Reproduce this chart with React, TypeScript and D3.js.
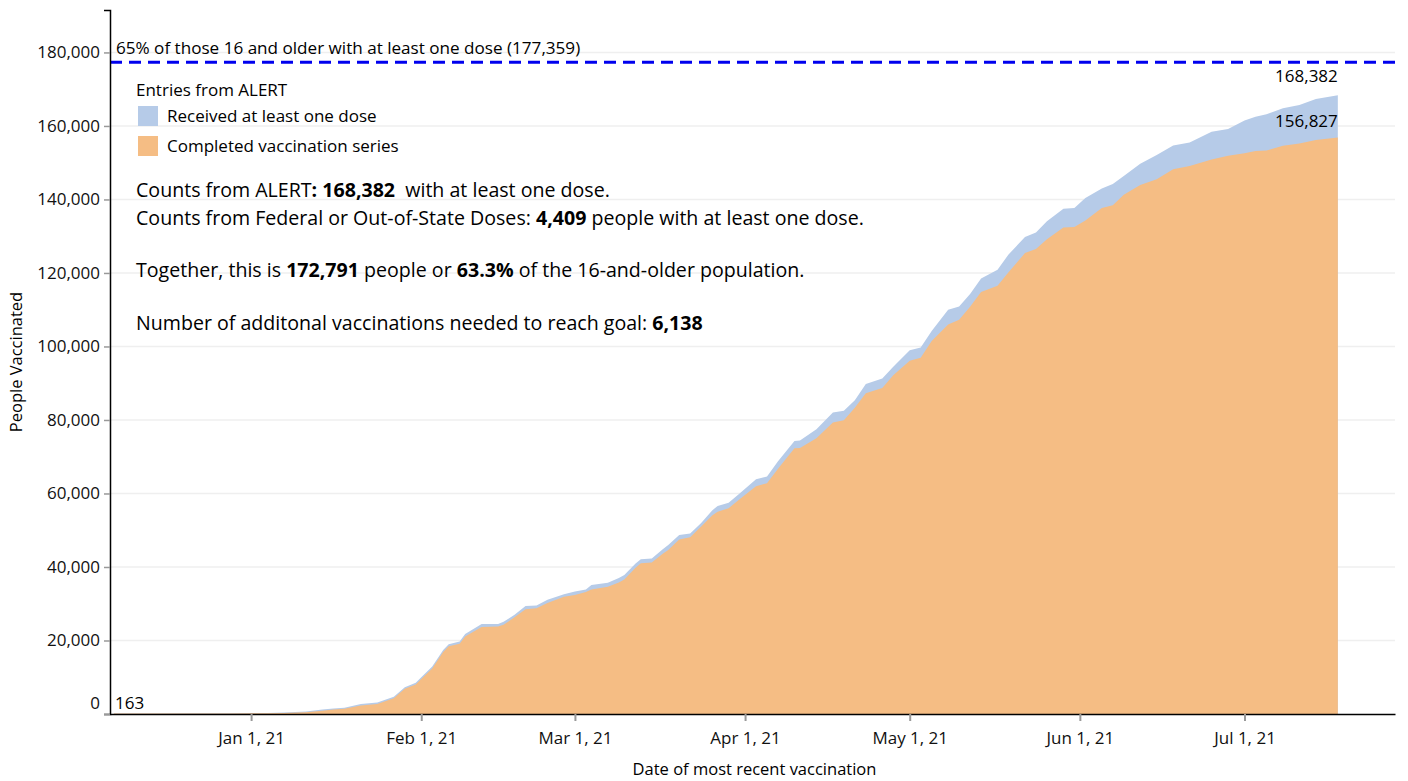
import React, { useEffect, useRef } from "react";
import * as d3 from "d3";

// cumulative counts by date of most recent vaccination
const dates = [
  "2020-12-07", "2020-12-14", "2020-12-21", "2020-12-28", "2021-01-04", "2021-01-07",
  "2021-01-11", "2021-01-14", "2021-01-16", "2021-01-18", "2021-01-21", "2021-01-24",
  "2021-01-27", "2021-01-29", "2021-01-31", "2021-02-01", "2021-02-03", "2021-02-05",
  "2021-02-06", "2021-02-08", "2021-02-09", "2021-02-12", "2021-02-15", "2021-02-16",
  "2021-02-18", "2021-02-20", "2021-02-22", "2021-02-24", "2021-02-27", "2021-03-01",
  "2021-03-03", "2021-03-04", "2021-03-07", "2021-03-09", "2021-03-10", "2021-03-12",
  "2021-03-13", "2021-03-15", "2021-03-17", "2021-03-18", "2021-03-20", "2021-03-22",
  "2021-03-24", "2021-03-26", "2021-03-27", "2021-03-29", "2021-03-31", "2021-04-03",
  "2021-04-05", "2021-04-07", "2021-04-10", "2021-04-11", "2021-04-14", "2021-04-17",
  "2021-04-19", "2021-04-21", "2021-04-23", "2021-04-26", "2021-04-28", "2021-05-01",
  "2021-05-03", "2021-05-05", "2021-05-08", "2021-05-10", "2021-05-12", "2021-05-14",
  "2021-05-17", "2021-05-19", "2021-05-22", "2021-05-24", "2021-05-26", "2021-05-29",
  "2021-05-31", "2021-06-02", "2021-06-05", "2021-06-07", "2021-06-09", "2021-06-12",
  "2021-06-15", "2021-06-18", "2021-06-21", "2021-06-25", "2021-06-28", "2021-07-01",
  "2021-07-03", "2021-07-05", "2021-07-08", "2021-07-11", "2021-07-14", "2021-07-18",
];

const atLeastOneDose = [
  163, 170, 190, 230, 300, 400,
  700, 1200, 1500, 1700, 2700, 3100,
  4700, 7300, 8500, 10000, 12900, 17400,
  19000, 19700, 21800, 24500, 24500, 25100,
  27000, 29400, 29500, 31100, 32600, 33300,
  33900, 35100, 35700, 37000, 37800, 40900,
  42100, 42300, 44800, 46000, 48700, 49100,
  52000, 55400, 56600, 57500, 60000, 63900,
  64600, 68800, 74300, 74400, 77500, 82000,
  82500, 85400, 89800, 91300, 94500, 99000,
  99700, 104200, 110000, 110900, 114300, 118500,
  120900, 125000, 129800, 131000, 134100, 137500,
  137700, 140400, 143000, 144200, 146400, 149700,
  152100, 154700, 155500, 158400, 159200, 161500,
  162500, 163200, 164800, 165700, 167300, 168382,
];

const completedSeries = [
  120, 125, 140, 160, 200, 250,
  450, 900, 1200, 1400, 2300, 2700,
  4300, 6900, 8000, 9500, 12400, 16900,
  18400, 19100, 21100, 23700, 23800, 24300,
  26300, 28500, 28800, 30200, 31900, 32400,
  33200, 33900, 34600, 35800, 36600, 39700,
  41000, 41200, 43600, 44600, 47500, 48100,
  51000, 54000, 55000, 56000, 58400, 62000,
  62800, 66700, 72300, 72400, 75000, 79300,
  79900, 83300, 87300, 88700, 92200, 96100,
  96900, 101500, 106000, 107300, 110800, 114800,
  116500, 120200, 125400, 126500, 129200, 132400,
  132500, 134300, 137700, 138400, 141300, 143900,
  145500, 148200, 149100, 150900, 151900, 152600,
  153200, 153300, 154600, 155200, 156200, 156827,
];

const goal = 177359;
const yTicks = [0, 20000, 40000, 60000, 80000, 100000, 120000, 140000, 160000, 180000];
const xTicks = ["2021-01-01", "2021-02-01", "2021-03-01", "2021-04-01", "2021-05-01", "2021-06-01", "2021-07-01"];

const legendLabels = ["Received at least one dose", "Completed vaccination series"];
const colors = ["#b6cbe8", "#f5bd84"];

// summary text, bold parts flagged
const summary: { y: number; parts: [string, boolean][] }[] = [
  { y: 197, parts: [["Counts from ALERT", false], [": 168,382", true], ["  with at least one dose.", false]] },
  { y: 225, parts: [["Counts from Federal or Out-of-State Doses: ", false], ["4,409", true], [" people with at least one dose.", false]] },
  { y: 277, parts: [["Together, this is ", false], ["172,791", true], [" people or ", false], ["63.3%", true], [" of the 16-and-older population.", false]] },
  { y: 330, parts: [["Number of additonal vaccinations needed to reach goal: ", false], ["6,138", true]] },
];

function App() {
  const ref = useRef<SVGSVGElement>(null);

  useEffect(() => {
    const width = 1408;
    const height = 781;
    const margin = { top: 10, right: 13, bottom: 67, left: 110 };
    const svg = d3.select(ref.current);
    svg.selectAll("*").remove();

    const parse = d3.timeParse("%Y-%m-%d");
    const rows = dates.map((d, i) => ({ date: parse(d) as Date, one: atLeastOneDose[i], done: completedSeries[i] }));
    const first = rows[0];
    const last = rows[rows.length - 1];

    const x = d3
      .scaleTime()
      .domain([d3.timeHour.offset(first.date, -17), d3.timeHour.offset(last.date, 250)])
      .range([margin.left, width - margin.right]);
    const y = d3
      .scaleLinear()
      .domain([0, goal * 1.08])
      .range([height - margin.bottom, margin.top]);
    const y0 = y(0);

    // gridlines
    svg.append("g")
      .selectAll("line")
      .data(yTicks.slice(1))
      .enter()
      .append("line")
      .attr("x1", margin.left)
      .attr("x2", width - margin.right)
      .attr("y1", (d) => y(d))
      .attr("y2", (d) => y(d))
      .attr("stroke", "#efefef")
      .attr("stroke-width", 1.5);

    // areas, first dose behind completed
    const areaOne = d3.area<any>().x((d) => x(d.date)).y0(y0).y1((d) => y(d.one));
    const areaDone = d3.area<any>().x((d) => x(d.date)).y0(y0).y1((d) => y(d.done));
    svg.append("path").datum(rows).attr("d", areaOne).attr("fill", colors[0]);
    svg.append("path").datum(rows).attr("d", areaDone).attr("fill", colors[1]);

    // goal line
    svg.append("line")
      .attr("x1", margin.left)
      .attr("x2", width - margin.right)
      .attr("y1", y(goal))
      .attr("y2", y(goal))
      .attr("stroke", "#0000ee")
      .attr("stroke-width", 3)
      .attr("stroke-dasharray", "12,7");
    svg.append("text")
      .attr("x", margin.left + 6)
      .attr("y", y(goal) - 8)
      .attr("font-size", 17.1)
      .text(`65% of those 16 and older with at least one dose (${d3.format(",")(goal)})`);

    // y axis
    const yAxis = svg.append("g")
      .attr("transform", `translate(${margin.left},0)`)
      .call(d3.axisLeft(y).tickValues(yTicks).tickFormat(d3.format(",")).tickSize(6).tickPadding(4));
    yAxis.select(".domain").attr("stroke", "#000").attr("stroke-width", 1.5);
    yAxis.selectAll(".tick line").attr("stroke", "#999").attr("stroke-width", 1.5);
    yAxis.selectAll(".tick text").attr("font-size", 17).attr("font-family", "Open Sans").attr("fill", "#111");
    yAxis.selectAll<SVGTextElement, number>(".tick text").filter((d) => d === 0).attr("dy", "-0.3em");

    // x axis
    const xAxis = svg.append("g")
      .attr("transform", `translate(0,${y0})`)
      .call(
        d3.axisBottom(x)
          .tickValues(xTicks.map((d) => parse(d) as Date))
          .tickFormat(d3.timeFormat("%b %-d, %y") as any)
          .tickSize(7)
          .tickSizeOuter(0)
          .tickPadding(11)
      );
    xAxis.select(".domain").attr("stroke", "#000").attr("stroke-width", 1.5);
    xAxis.selectAll(".tick line").attr("stroke", "#999").attr("stroke-width", 2);
    xAxis.selectAll(".tick text").attr("font-size", 17).attr("font-family", "Open Sans").attr("fill", "#111");

    // axis titles
    svg.append("text")
      .attr("transform", `translate(22,362) rotate(-90)`)
      .attr("text-anchor", "middle")
      .attr("font-size", 16.5)
      .text("People Vaccinated");
    svg.append("text")
      .attr("x", (margin.left + width - margin.right) / 2 + 2)
      .attr("y", 775)
      .attr("text-anchor", "middle")
      .attr("font-size", 16.5)
      .text("Date of most recent vaccination");

    // value labels
    svg.append("text")
      .attr("x", margin.left + 5)
      .attr("y", y0 - 5)
      .attr("font-size", 17)
      .text(d3.format(",")(first.one));
    svg.append("text")
      .attr("x", x(last.date))
      .attr("y", y(last.one) - 13)
      .attr("text-anchor", "end")
      .attr("font-size", 17)
      .text(d3.format(",")(last.one));
    svg.append("text")
      .attr("x", x(last.date))
      .attr("y", y(last.done) - 11)
      .attr("text-anchor", "end")
      .attr("font-size", 17)
      .text(d3.format(",")(last.done));

    // legend
    const legend = svg.append("g").attr("transform", "translate(136,0)");
    legend.append("text").attr("x", 0).attr("y", 96).attr("font-size", 17).text("Entries from ALERT");
    legendLabels.forEach((label, i) => {
      legend.append("rect")
        .attr("x", 2)
        .attr("y", 106 + i * 30)
        .attr("width", 20)
        .attr("height", 20)
        .attr("fill", colors[i]);
      legend.append("text")
        .attr("x", 31)
        .attr("y", 122 + i * 30)
        .attr("font-size", 17)
        .text(label);
    });

    // summary block
    summary.forEach((line) => {
      const t = svg.append("text")
        .attr("x", 136)
        .attr("y", line.y)
        .attr("font-size", 19.6)
        .style("white-space", "pre");
      line.parts.forEach(([s, bold]) => {
        t.append("tspan").attr("font-weight", bold ? "bold" : "normal").text(s);
      });
    });
  }, []);

  return (
    <svg
      ref={ref}
      width={1408}
      height={781}
      style={{ position: "absolute", left: 0, top: 0, fontFamily: "Open Sans", background: "#fff" }}
    />
  );
}

export default App;
